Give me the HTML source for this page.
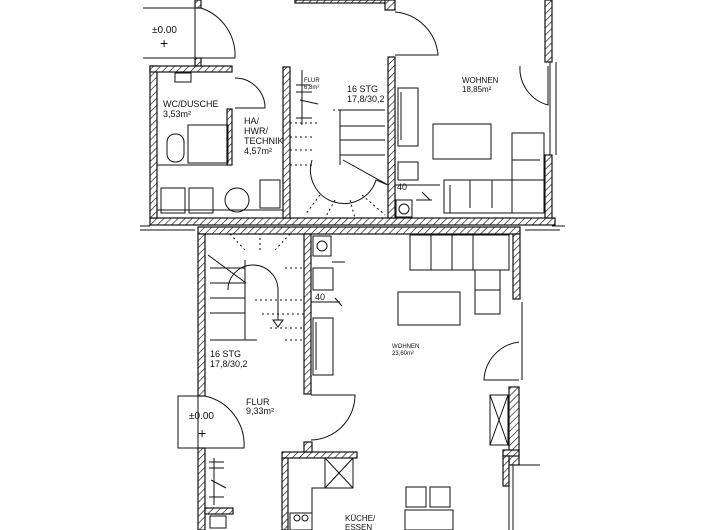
<!DOCTYPE html>
<html><head><meta charset="utf-8"><style>
html,body{margin:0;padding:0;background:#fff}
svg{display:block}
text{font-family:"Liberation Sans",sans-serif;fill:#111}
</style></head><body>
<svg width="720" height="530" viewBox="0 0 720 530" xmlns="http://www.w3.org/2000/svg">
<defs>
<pattern id="h" patternUnits="userSpaceOnUse" width="5" height="5" patternTransform="rotate(45)">
<rect width="5" height="5" fill="#fff"/><line x1="0" y1="0" x2="0" y2="5" stroke="#111" stroke-width="1.3"/>
</pattern>
</defs>
<g stroke="#111" stroke-width="1.2" fill="url(#h)">
<rect x="150" y="218" width="405" height="7"/>
<rect x="150" y="66" width="7" height="152"/>
<rect x="150" y="66" width="82" height="6"/>
<rect x="195" y="0" width="6" height="8"/>
<rect x="195" y="58" width="6" height="8"/>
<rect x="283" y="67" width="7" height="151"/>
<rect x="388" y="57" width="7" height="161"/>
<rect x="295" y="0" width="95" height="3"/>
<rect x="385" y="0" width="10" height="10"/>
<rect x="545" y="0" width="7" height="62"/>
<rect x="545" y="155" width="7" height="63"/>
<rect x="227" y="109" width="5" height="56"/>
<rect x="198" y="227" width="322" height="7"/>
<rect x="198" y="234" width="7" height="162"/>
<rect x="198" y="448" width="7" height="82"/>
<rect x="304" y="234" width="7" height="160"/>
<rect x="513" y="234" width="7" height="65"/>
<rect x="509" y="387" width="10" height="78"/>
<rect x="503" y="450" width="16" height="6"/>
<rect x="503" y="456" width="6" height="30"/>
<rect x="282" y="452" width="75" height="6"/>
<rect x="282" y="458" width="6" height="72"/>
<rect x="304" y="442" width="8" height="10"/>
<rect x="205" y="508" width="28" height="6"/>
</g>
<g stroke="#111" stroke-width="1" fill="none">
<path d="M140 230 H195 M525 230 H560 M140 226 H150 M552 226 H565"/>
<path d="M556 62 V155 M550 62 V155"/>
<path d="M143 8 H195 V58 H143"/>
<path d="M201 8 A50 50 0 0 1 235 58 L201 58"/>
<path d="M157 72 V210 H283 M157 165 H227"/>
<rect x="175" y="73" width="16" height="9"/>
<path d="M235 78 A30 30 0 0 1 265 108 L235 108"/>
<rect x="188" y="125" width="40" height="38"/>
<rect x="167" y="134" width="17" height="28" rx="8"/>
<rect x="161" y="188" width="24" height="25"/>
<rect x="189" y="188" width="24" height="25"/>
<circle cx="237" cy="200" r="12"/>
<rect x="260" y="180" width="20" height="28"/>
<path d="M395 12 A47 47 0 0 1 438 55 L395 55"/>
<path d="M340 110 H385 M340 126 H385 M340 140 H385 M340 155 H385 M340 110 V165"/>
<path d="M312 160 A33 33 0 0 0 376 180 L388 185 M343 160 L388 185"/>
<path stroke-dasharray="2 3" d="M333 110 H340 M290 123 H320 M290 137 H315 M290 150 H312 M290 165 H312 M320 195 L305 215 M335 200 L325 218 M350 200 L355 218 M362 195 L385 215"/>
<path d="M302 70 V125 M296 85 H310 M296 92 H312 M300 100 L318 104 M296 118 H312"/>
<rect x="398" y="88" width="20" height="58"/>
<path d="M401 92 V140"/>
<rect x="433" y="124" width="58" height="35"/>
<rect x="512" y="133" width="32" height="80"/>
<rect x="444" y="180" width="100" height="33"/>
<path d="M450 185 V213 H544 M470 180 V208 M492 180 V208 M512 160 H540"/>
<rect x="398" y="162" width="20" height="18"/>
<rect x="396" y="200" width="16" height="17"/><circle cx="404" cy="209" r="5"/>
<path d="M520 66 A38 38 0 0 0 548 105 L548 66"/>
<path d="M208 255 L246 283 M210 268 H245 M210 283 H245 M210 298 H245 M210 313 H245 M245 260 V340 M210 340 H257"/>
<path d="M228 290 A25 25 0 0 1 278 290 V320"/>
<path d="M273 320 L283 320 L278 327 Z"/>
<path stroke-dasharray="2 3" d="M245 250 L230 234 M260 250 V234 M275 250 L290 234 M255 300 H304 M262 314 H304 M270 328 H304 M285 340 H304 M285 268 H304"/>
<rect x="313" y="236" width="18" height="20"/><circle cx="322" cy="246" r="5"/>
<rect x="313" y="268" width="20" height="22"/>
<rect x="313" y="318" width="20" height="57"/>
<path d="M316 322 V370"/>
<path d="M178 396 H198 V448 H178 Z"/>
<path d="M205 396 A50 50 0 0 1 244 448 L205 448"/>
<path d="M214 458 V505 M209 462 H224 M209 468 H224 M211 480 L226 488 M209 497 H224"/>
<rect x="210" y="516" width="16" height="12"/>
<path d="M311 395 L355 395 A45 45 0 0 1 311 440"/>
<rect x="325" y="458" width="28" height="30"/>
<path d="M325 458 L353 488 M353 458 L325 488 M353 488 H312 V530"/>
<rect x="290" y="513" width="22" height="17"/>
<circle cx="297" cy="518" r="3"/><circle cx="305" cy="518" r="3"/>
<rect x="406" y="487" width="20" height="20"/><rect x="430" y="487" width="20" height="20"/>
<rect x="405" y="510" width="48" height="20"/>
<rect x="410" y="235" width="99" height="35"/>
<path d="M431 235 V270 M452 235 V270 M473 235 V270"/>
<rect x="475" y="270" width="25" height="44"/>
<path d="M475 290 H500"/>
<rect x="398" y="292" width="62" height="33"/>
<path d="M519 342 A40 40 0 0 0 484 380 L519 380 M522 302 V380"/>
<rect x="490" y="395" width="18" height="50"/>
<path d="M490 395 L508 445 M508 395 L490 445"/>
<path d="M509 465 V530 M513 465 V530 M519 465 H540"/>
<path d="M395 185 H440 M422 192 L430 200 M416 200 H432 M332 262 H345 M311 302 H340 M335 298 L342 306"/>
</g>
<g font-size="10">
<text x="152" y="33">±0.00</text>
<text x="160" y="48" font-size="14">+</text>
<text x="163" y="107" font-size="9">WC/DUSCHE</text>
<text x="163" y="117" font-size="9">3,53m²</text>
<text x="244" y="124" font-size="9">HA/</text>
<text x="244" y="134" font-size="9">HWR/</text>
<text x="244" y="144" font-size="9">TECHNIK</text>
<text x="244" y="154" font-size="9">4,57m²</text>
<text x="304" y="82" font-size="6">FLUR</text>
<text x="304" y="89" font-size="6">6,8m²</text>
<text x="347" y="92" font-size="9">16 STG</text>
<text x="347" y="102" font-size="9">17,8/30,2</text>
<text x="462" y="83" font-size="8">WOHNEN</text>
<text x="462" y="92" font-size="8">18,85m²</text>
<text x="397" y="190" font-size="9">40</text>
<text x="210" y="357" font-size="9">16 STG</text>
<text x="210" y="367" font-size="9">17,8/30,2</text>
<text x="189" y="419">±0.00</text>
<text x="198" y="438" font-size="14">+</text>
<text x="246" y="405" font-size="9">FLUR</text>
<text x="246" y="414" font-size="9">9,33m²</text>
<text x="392" y="348" font-size="6">WOHNEN</text>
<text x="392" y="355" font-size="6">23,60m²</text>
<text x="315" y="300" font-size="9">40</text>
<text x="345" y="521" font-size="8">KÜCHE/</text>
<text x="345" y="530" font-size="8">ESSEN</text>
</g>
</svg>
</body></html>
